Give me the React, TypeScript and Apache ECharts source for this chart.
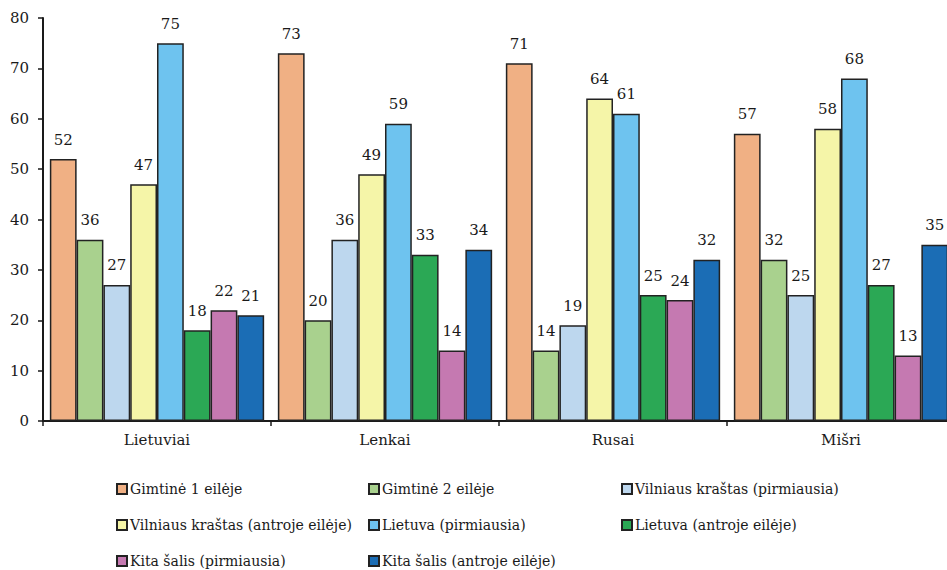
import React, { useEffect, useRef } from "react";
import * as echarts from "echarts";

const categories = ["Lietuviai", "Lenkai", "Rusai", "Mišri"];
const seriesNames = [
  "Gimtinė 1 eilėje",
  "Gimtinė 2 eilėje",
  "Vilniaus kraštas (pirmiausia)",
  "Vilniaus kraštas (antroje eilėje)",
  "Lietuva (pirmiausia)",
  "Lietuva (antroje eilėje)",
  "Kita šalis (pirmiausia)",
  "Kita šalis (antroje eilėje)",
];
const gimtine1 = [52, 73, 71, 57];
const gimtine2 = [36, 20, 14, 32];
const vilniausPirm = [27, 36, 19, 25];
const vilniausAntr = [47, 49, 64, 58];
const lietuvaPirm = [75, 59, 61, 68];
const lietuvaAntr = [18, 33, 25, 27];
const kitaPirm = [22, 14, 24, 13];
const kitaAntr = [21, 34, 32, 35];
const seriesValues = [gimtine1, gimtine2, vilniausPirm, vilniausAntr, lietuvaPirm, lietuvaAntr, kitaPirm, kitaAntr];
const colors = ["#F0B084", "#A9D18E", "#BDD7EE", "#F5F5A8", "#6EC3EF", "#2BA855", "#C579B1", "#1B6DB5"];

const FONT = "DejaVu Serif";
const FS = 15;
const TXT = "#1a1a1a";

const legendCols = [116, 368, 621];
const legendRows = [479, 515, 551];

export default function App() {
  const ref = useRef<HTMLDivElement>(null);
  useEffect(() => {
    if (!ref.current) return;
    const chart = echarts.init(ref.current, null, { renderer: "svg" });
    const legendText = { fontFamily: FONT, fontSize: 14, color: TXT, lineHeight: 20, padding: [0, 0, 0, -2] };
    const legends = seriesNames.map((name, i) => ({
      orient: "horizontal" as const,
      left: legendCols[i % 3],
      top: legendRows[Math.floor(i / 3)],
      itemWidth: 10,
      itemHeight: 10,
      itemGap: 0,
      icon: "rect",
      textStyle: legendText,
      padding: 0,
      data: [name],
    }));
    chart.setOption({
      animation: false,
      textStyle: { fontFamily: FONT },
      grid: { left: 43, right: 0, top: 18, bottom: 149, containLabel: false },
      legend: legends,
      xAxis: {
        type: "category",
        data: categories,
        axisLine: { lineStyle: { color: "#1a1a1a", width: 2 } },
        axisTick: { show: true, length: 5, lineStyle: { color: "#1a1a1a", width: 1.5 } },
        axisLabel: { fontFamily: FONT, fontSize: FS, color: TXT, margin: 11 },
        splitLine: { show: false },
      },
      yAxis: {
        type: "value",
        min: 0,
        max: 80,
        interval: 10,
        axisLine: { show: true, lineStyle: { color: "#1a1a1a", width: 2 } },
        axisTick: { show: true, length: 5, lineStyle: { color: "#1a1a1a", width: 1.5 } },
        axisLabel: { fontFamily: FONT, fontSize: FS, color: TXT, margin: 14 },
        splitLine: { show: false },
      },
      series: seriesNames.map((name, i) => ({
        name,
        type: "bar",
        data: seriesValues[i],
        barGap: "0%",
        barCategoryGap: "6%",
        itemStyle: { color: colors[i], borderColor: "#222", borderWidth: 1.5 },
        label: {
          show: true,
          position: "top",
          distance: 12,
          fontFamily: FONT,
          fontSize: FS,
          color: TXT,
        },
      })),
    });
    return () => chart.dispose();
  }, []);
  return (
    <div
      ref={ref}
      style={{ position: "fixed", left: 0, top: 0, width: 955, height: 570, background: "#fff" }}
    />
  );
}
